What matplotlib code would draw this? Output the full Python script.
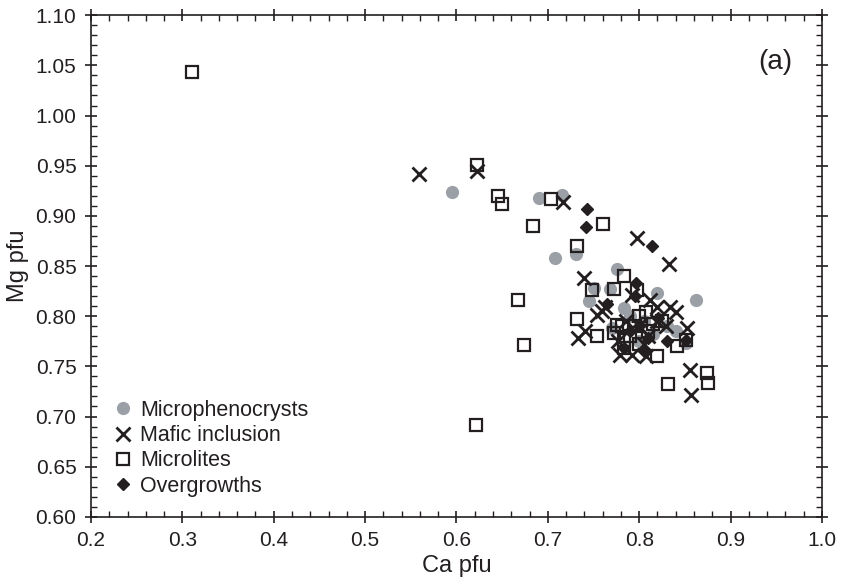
import numpy as np
import matplotlib
matplotlib.use('Agg')
import matplotlib.pyplot as plt
from matplotlib.ticker import MultipleLocator, FormatStrFormatter

plt.rcParams.update({
    'font.family': ['Liberation Sans', 'DejaVu Sans'],
    'font.size': 15,
})

# ── Datos (Ca pfu, Mg pfu) ───────────────────────────────────────────────────
micropheno_ca = [0.595, 0.690, 0.715, 0.708, 0.731, 0.776, 0.820, 0.862, 0.750,
                 0.768, 0.783, 0.851, 0.790, 0.805, 0.770, 0.830, 0.815, 0.800,
                 0.745, 0.840]
micropheno_mg = [0.924, 0.918, 0.921, 0.858, 0.862, 0.847, 0.823, 0.816, 0.828,
                 0.827, 0.808, 0.773, 0.800, 0.795, 0.788, 0.790, 0.782, 0.775,
                 0.815, 0.785]

mafic_ca = [0.559, 0.622, 0.717, 0.798, 0.833, 0.740, 0.733, 0.741, 0.754, 0.763,
            0.792, 0.812, 0.820, 0.834, 0.840, 0.829, 0.852, 0.779, 0.792, 0.807,
            0.856, 0.857, 0.759, 0.800, 0.810, 0.785, 0.820, 0.805, 0.777]
mafic_mg = [0.942, 0.945, 0.914, 0.878, 0.852, 0.838, 0.778, 0.785, 0.801, 0.809,
            0.821, 0.816, 0.809, 0.809, 0.804, 0.790, 0.788, 0.761, 0.761, 0.760,
            0.746, 0.721, 0.805, 0.790, 0.780, 0.795, 0.795, 0.772, 0.775]

microlite_ca = [0.311, 0.622, 0.645, 0.650, 0.703, 0.684, 0.760, 0.732, 0.667,
                0.674, 0.621, 0.732, 0.748, 0.772, 0.783, 0.798, 0.754, 0.772,
                0.781, 0.783, 0.776, 0.783, 0.820, 0.831, 0.874, 0.875, 0.841,
                0.851, 0.807, 0.795, 0.800, 0.810, 0.825, 0.815, 0.790, 0.800]
microlite_mg = [1.0435, 0.951, 0.920, 0.912, 0.917, 0.890, 0.892, 0.870, 0.816,
                0.771, 0.692, 0.797, 0.826, 0.827, 0.840, 0.826, 0.780, 0.783,
                0.790, 0.776, 0.791, 0.768, 0.760, 0.732, 0.743, 0.733, 0.770,
                0.776, 0.804, 0.790, 0.800, 0.785, 0.795, 0.792, 0.780, 0.772]

overgrowth_ca = [0.743, 0.742, 0.814, 0.797, 0.765, 0.795, 0.783, 0.821, 0.851,
                 0.800, 0.810, 0.790, 0.830, 0.805]
overgrowth_mg = [0.907, 0.889, 0.870, 0.833, 0.812, 0.820, 0.768, 0.798, 0.776,
                 0.790, 0.778, 0.785, 0.775, 0.765]

DARK = '#231f20'
GREY = '#9aa0a6'

fig = plt.figure(figsize=(8.43, 5.86), dpi=100)
ax = fig.add_axes([0.108, 0.118, 0.867, 0.856])

ax.plot(micropheno_ca, micropheno_mg, 'o', ms=9.5, color=GREY, mec='none',
        label='Microphenocrysts', zorder=2)
ax.plot(mafic_ca, mafic_mg, 'x', ms=10.5, mew=2.0, color=DARK,
        label='Mafic inclusion', zorder=3)
ax.plot(microlite_ca, microlite_mg, 's', ms=8, mew=1.6, mfc='none', mec=DARK,
        label='Microlites', zorder=3)
ax.plot(overgrowth_ca, overgrowth_mg, 'D', ms=6.5, color=DARK,
        label='Overgrowths', zorder=4)

ax.set_xlim(0.2, 1.0)
ax.set_ylim(0.6, 1.1)
ax.xaxis.set_major_locator(MultipleLocator(0.1))
ax.xaxis.set_minor_locator(MultipleLocator(0.02))
ax.yaxis.set_major_locator(MultipleLocator(0.05))
ax.yaxis.set_minor_locator(MultipleLocator(0.01))
ax.xaxis.set_major_formatter(FormatStrFormatter('%.1f'))
ax.yaxis.set_major_formatter(FormatStrFormatter('%.2f'))

ax.tick_params(which='major', direction='inout', length=9, width=1.2,
               top=True, right=True, labelsize=15, colors=DARK, pad=6)
ax.tick_params(which='minor', direction='in', length=4, width=1.0,
               top=True, right=True, colors=DARK)
for sp in ax.spines.values():
    sp.set_linewidth(1.2)
    sp.set_color(DARK)

ax.set_xlabel('Ca pfu', fontsize=17, color=DARK, labelpad=3)
ax.set_ylabel('Mg pfu', fontsize=17, color=DARK, labelpad=5)

ax.text(0.936, 0.906, '(a)', transform=ax.transAxes, fontsize=20,
        ha='center', va='center', color=DARK)

leg = ax.legend(loc='lower left', bbox_to_anchor=(0.03, 0.04), frameon=False,
                handlelength=0.9, handletextpad=0.35, labelspacing=0.2,
                borderpad=0, borderaxespad=0, fontsize=15.5)
for t in leg.get_texts():
    t.set_color(DARK)

fig.savefig('out.png', dpi=100)
